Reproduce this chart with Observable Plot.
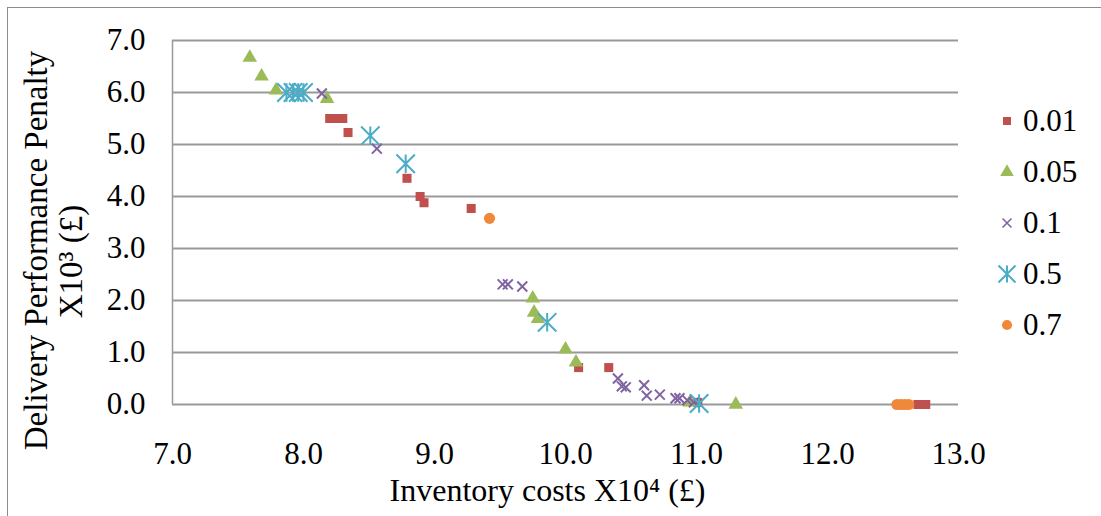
<!DOCTYPE html>
<html>
<head>
<meta charset="utf-8">
<script src="https://cdn.jsdelivr.net/npm/d3@7"></script>
<script src="https://cdn.jsdelivr.net/npm/@observablehq/plot@0.6"></script>
<style>
  body { margin: 0; background: #fff; }
  #chart { position: relative; width: 1101px; height: 516px; overflow: hidden;
           font-family: "Liberation Serif", "Times New Roman", serif; }
  #border { position: absolute; left: 7px; top: 7px; width: 1200px; height: 600px;
            border: 1px solid #8c8c8c; pointer-events: none; }
  #legend { position: absolute; left: 994px; top: 95px; }
  .item { display: flex; align-items: center; height: 51px; font-size: 31px; color: #000; }
  .item svg { width: 26px; height: 26px; margin-right: 3px; }
</style>
</head>
<body>
<div id="chart"><div id="border"></div></div>
<script>
// Axis ticks
const xTicks = [7, 8, 9, 10, 11, 12, 13];
const yTicks = [0, 1, 2, 3, 4, 5, 6, 7];

// Axis titles
const xTitle = "Inventory costs X10⁴ (£)";
const yTitleLines = ["Delivery Performance Penalty", "X10³ (£)"];

// Series names and colours
const seriesNames = ["0.01", "0.05", "0.1", "0.5", "0.7"];
const seriesColors = ["#C0504D", "#9BBB59", "#8064A2", "#4BACC6", "#F0883A"];

// Inventory costs (x10^4 £) and delivery performance penalty (x10^3 £) per series
const s001x = [8.20, 8.24, 8.30, 8.34, 8.79, 8.89, 8.92, 9.28, 10.10, 10.33, 11.01, 12.69, 12.72, 12.75];
const s001y = [5.50, 5.50, 5.50, 5.23, 4.35, 4.00, 3.88, 3.77, 0.71, 0.71, 0.04, 0.00, 0.00, 0.00];

const s005x = [7.59, 7.68, 7.79, 8.18, 9.75, 9.76, 9.79, 10.00, 10.08, 10.95, 11.30];
const s005y = [6.67, 6.31, 6.04, 5.88, 2.04, 1.77, 1.65, 1.06, 0.81, 0.04, 0.00];

const s01x = [8.14, 8.56, 9.52, 9.56, 9.67, 10.40, 10.43, 10.46, 10.60, 10.62, 10.72, 10.84, 10.87, 10.93, 10.98];
const s01y = [5.98, 4.92, 2.31, 2.31, 2.27, 0.50, 0.35, 0.33, 0.37, 0.17, 0.19, 0.12, 0.12, 0.08, 0.04];

const s05x = [7.87, 7.92, 7.96, 8.00, 8.51, 8.78, 9.86, 11.02];
const s05y = [6.00, 6.00, 6.00, 6.00, 5.17, 4.63, 1.58, 0.02];

const s07x = [9.42, 12.53, 12.56, 12.59, 12.62];
const s07y = [3.58, 0.00, 0.00, 0.00, 0.00];

const toRows = (xs, ys) => xs.map((x, i) => ({x, y: ys[i]}));

// Stroke-only marker shapes: an "x" and an asterisk (x plus vertical bar)
const timesSymbol = {
  draw(ctx, size) {
    const r = Math.sqrt(size) * 0.5;
    ctx.moveTo(-r, -r); ctx.lineTo(r, r);
    ctx.moveTo(-r, r); ctx.lineTo(r, -r);
  }
};
const starSymbol = {
  draw(ctx, size) {
    const r = Math.sqrt(size) * 0.5;
    ctx.moveTo(-r, -r); ctx.lineTo(r, r);
    ctx.moveTo(-r, r); ctx.lineTo(r, -r);
    ctx.moveTo(0, -r); ctx.lineTo(0, r);
  }
};

const markerSpecs = [
  {data: toRows(s001x, s001y), symbol: "square",   r: 5.1, fill: seriesColors[0]},
  {data: toRows(s005x, s005y), symbol: "triangle", r: 5.4, fill: seriesColors[1]},
  {data: toRows(s01x, s01y),   symbol: timesSymbol, r: 5.6, stroke: seriesColors[2], strokeWidth: 2},
  {data: toRows(s05x, s05y),   symbol: starSymbol,  r: 10.4, stroke: seriesColors[3], strokeWidth: 2},
  {data: toRows(s07x, s07y),   symbol: "circle",   r: 5.6, fill: seriesColors[4]}
];

const plot = Plot.plot({
  width: 1101,
  height: 516,
  marginLeft: 172,
  marginRight: 143,
  marginTop: 40,
  marginBottom: 112,
  style: {fontFamily: "'Liberation Serif', 'Times New Roman', serif", fontSize: "31px", background: "transparent", color: "#000"},
  x: {domain: [7, 13]},
  y: {domain: [0, 7]},
  marks: [
    Plot.gridY(yTicks, {stroke: "#999", strokeOpacity: 1, strokeWidth: 2}),
    Plot.ruleX([7], {y1: 0, y2: 7, stroke: "#999", strokeWidth: 1.5}),
    Plot.axisY(yTicks, {tickSize: 0, tickPadding: 27, tickFormat: d => d.toFixed(1), fontSize: 31, label: null}),
    Plot.axisX(xTicks, {tickSize: 0, tickPadding: 37, tickFormat: d => d.toFixed(1), fontSize: 31, label: null}),
    // axis titles
    Plot.text([xTitle], {frameAnchor: "bottom", text: d => d, fontSize: 32, lineAnchor: "middle", dx: -18, dy: 86, fill: "#000"}),
    Plot.text([yTitleLines[0]], {frameAnchor: "left", text: d => d, fontSize: 33, rotate: -90, textAnchor: "middle", lineAnchor: "middle", dx: -136, dy: 28, fill: "#000"}),
    Plot.text([yTitleLines[1]], {frameAnchor: "left", text: d => d, fontSize: 33, rotate: -90, textAnchor: "middle", lineAnchor: "middle", dx: -101, dy: 39, fill: "#000"}),
    ...markerSpecs.map(s => Plot.dot(s.data, {
      x: "x", y: "y", symbol: s.symbol, r: s.r,
      fill: s.fill ?? "none", stroke: s.stroke ?? "none", strokeWidth: s.strokeWidth ?? 1
    }))
  ]
});

const chart = document.getElementById("chart");
chart.insertBefore(plot, chart.firstChild);

// Legend drawn with the same marker shapes
const legend = document.createElement("div");
legend.id = "legend";
const legendShapes = [
  {symbol: d3.symbolSquare, size: 64, fill: seriesColors[0]},
  {symbol: d3.symbolTriangle, size: 80, fill: seriesColors[1]},
  {symbol: timesSymbol, size: 80, stroke: seriesColors[2], sw: 1.6},
  {symbol: starSymbol, size: 290, stroke: seriesColors[3], sw: 2},
  {symbol: d3.symbolCircle, size: 80, fill: seriesColors[4]}
];
seriesNames.forEach((name, i) => {
  const s = legendShapes[i];
  const item = document.createElement("div");
  item.className = "item";
  const svg = d3.create("svg").attr("viewBox", "-13 -13 26 26");
  svg.append("path")
    .attr("d", d3.symbol(s.symbol, s.size)())
    .attr("fill", s.fill ?? "none")
    .attr("stroke", s.stroke ?? "none")
    .attr("stroke-width", s.sw ?? 0);
  item.appendChild(svg.node());
  const label = document.createElement("span");
  label.textContent = name;
  item.appendChild(label);
  legend.appendChild(item);
});
chart.appendChild(legend);
</script>
</body>
</html>
